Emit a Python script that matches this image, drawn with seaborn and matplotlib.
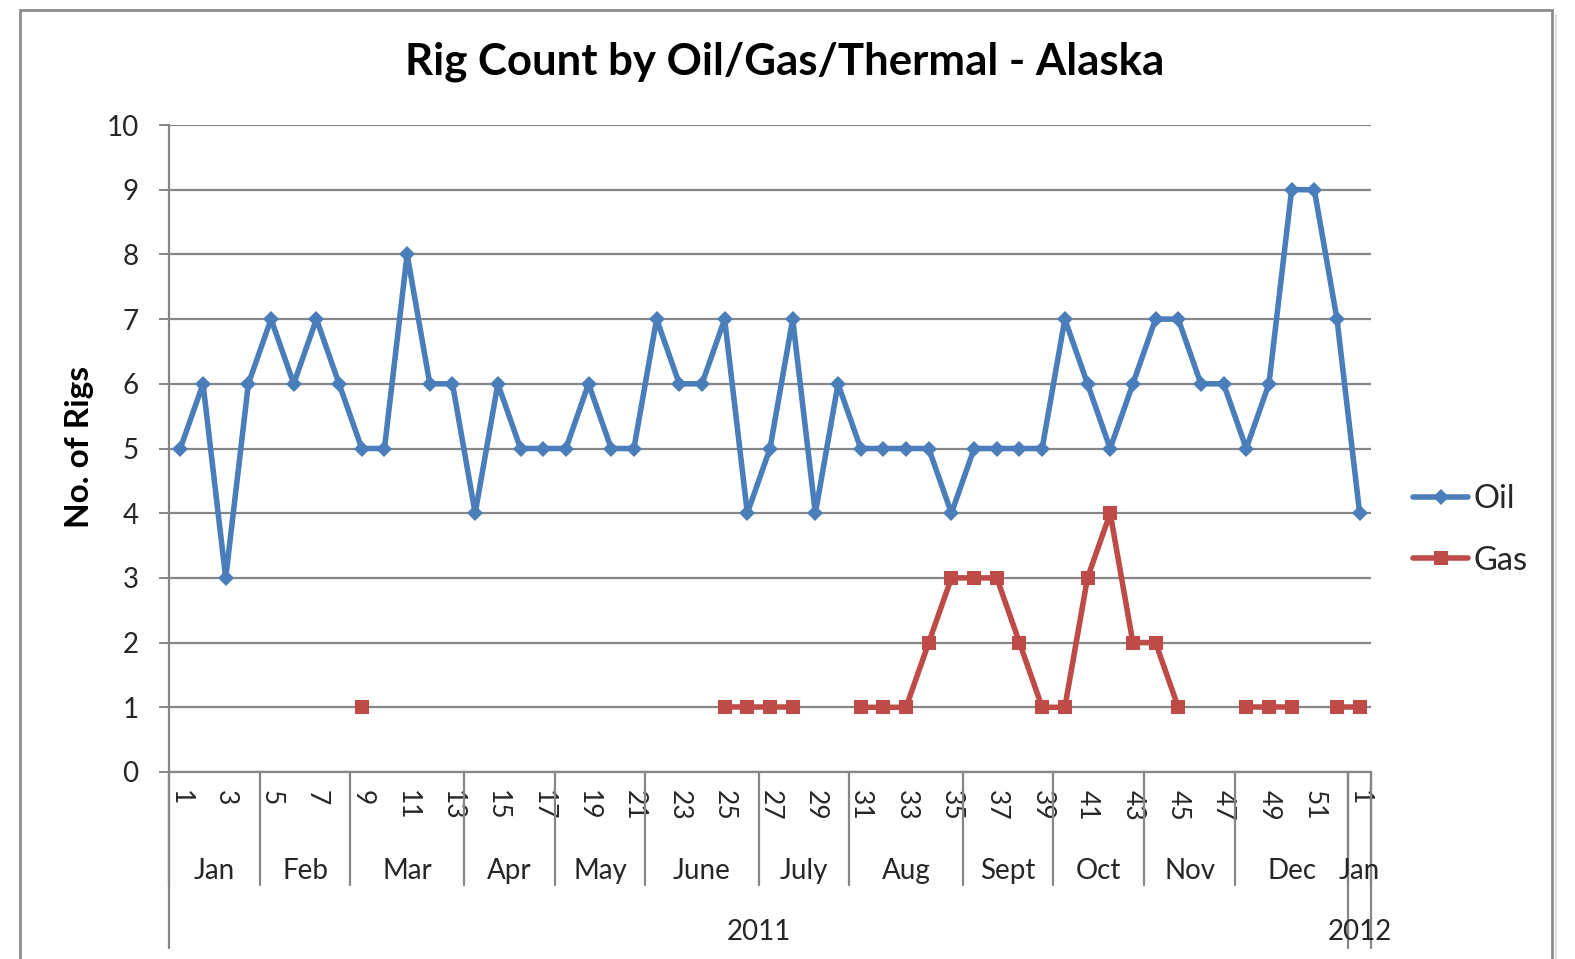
import numpy as np
import pandas as pd
import matplotlib
matplotlib.use("Agg")
import matplotlib.pyplot as plt
import matplotlib.transforms as mtransforms
from matplotlib.lines import Line2D
from matplotlib.patches import Rectangle
import seaborn as sns

# ---------------- data ----------------
weeks = list(range(1, 53)) + [1]
oil = [5, 6, 3, 6, 7, 6, 7, 6, 5, 5,
       8, 6, 6, 4, 6, 5, 5, 5, 6, 5,
       5, 7, 6, 6, 7, 4, 5, 7, 4, 6,
       5, 5, 5, 5, 4, 5, 5, 5, 5, 7,
       6, 5, 6, 7, 7, 6, 6, 5, 6, 9,
       9, 7, 4]
nan = np.nan
gas = [nan, nan, nan, nan, nan, nan, nan, nan, 1, nan,
       nan, nan, nan, nan, nan, nan, nan, nan, nan, nan,
       nan, nan, nan, nan, 1, 1, 1, 1, nan, nan,
       1, 1, 1, 2, 3, 3, 3, 2, 1, 1,
       3, 4, 2, 2, 1, nan, nan, 1, 1, 1,
       nan, 1, 1]
months = ["Jan", "Feb", "Mar", "Apr", "May", "June", "July", "Aug",
          "Sept", "Oct", "Nov", "Dec", "Jan"]
month_weeks = [4, 4, 5, 4, 4, 5, 4, 5, 4, 4, 4, 5, 1]
years = ["2011", "2012"]
year_weeks = [52, 1]
series_names = ["Oil", "Gas"]
yticks = list(range(0, 11))

# ---------------- style ----------------
sns.set_style("white")
plt.rcParams["font.family"] = ["Lato", "DejaVu Sans"]

OIL_C = "#4A7EBB"
GAS_C = "#BE4B48"
GRID_C = "#868686"
LW = 4.0

W, H = 1575, 959
fig = plt.figure(figsize=(W / 100, H / 100), dpi=100)
fig.patch.set_facecolor("white")

# outer chart border
fig.patches.append(Rectangle((20 / W, -0.05), (1552 - 20) / W, 1 - 10 / H + 0.05,
                             transform=fig.transFigure, fill=False,
                             edgecolor="#8C8C8C", lw=2.0, zorder=0))
fig.patches.append(Rectangle((1555 / W, -0.05), 2 / W, 1 - 14 / H + 0.05,
                             transform=fig.transFigure, facecolor="#DDDDDD",
                             edgecolor="none", zorder=0))

L, R, T, B = 169, 1371, 125, 772
ax = fig.add_axes([L / W, 1 - B / H, (R - L) / W, (B - T) / H])

# ---------------- long-form data ----------------
n = len(weeks)
pos = np.arange(n)
rows = []
for name, vals in zip(series_names, [oil, gas]):
    seg = 0
    prev_nan = True
    for i, v in enumerate(vals):
        if np.isnan(v):
            prev_nan = True
            continue
        if prev_nan:
            seg += 1
        prev_nan = False
        rows.append({"x": i, "value": v, "series": name, "seg": f"{name}{seg}"})
df = pd.DataFrame(rows)

sns.lineplot(data=df, x="x", y="value", hue="series", style="series",
             units="seg", estimator=None, sort=False,
             palette={"Oil": OIL_C, "Gas": GAS_C},
             markers={"Oil": "D", "Gas": "s"}, dashes=False,
             linewidth=LW, markersize=8, markeredgewidth=0,
             legend=False, ax=ax, zorder=3)
for ln in ax.lines:
    if ln.get_marker() == "s":
        ln.set_markersize(9.5)
    else:
        ln.set_markersize(8.5)

# ---------------- axes ----------------
ax.set_xlim(-0.5, n - 0.5)
ax.set_ylim(0, 10)
ax.set_yticks(yticks)
ax.set_yticklabels([str(v) for v in yticks], fontsize=20)
ax.yaxis.grid(True, color=GRID_C, lw=1.6)
ax.xaxis.grid(False)
ax.set_axisbelow(True)
ax.tick_params(axis="y", length=7, width=1.4, color=GRID_C, pad=15, left=True)
for s in ["top", "right"]:
    ax.spines[s].set_visible(False)
ax.spines["left"].set_color(GRID_C)
ax.spines["left"].set_linewidth(1.6)
ax.spines["bottom"].set_color(GRID_C)
ax.spines["bottom"].set_linewidth(1.6)
ax.set_xlabel("")
ax.set_ylabel("")

# week tick labels (every 2nd category)
lab_pos = pos[::2]
ax.set_xticks(lab_pos)
ax.set_xticklabels([str(weeks[i]) for i in lab_pos], rotation=-90, fontsize=19)
ax.tick_params(axis="x", length=0, pad=13)

trans = mtransforms.blended_transform_factory(ax.transData, ax.transAxes)
px = 1.0 / (B - T)

month_bottom = -(885 - B) * px
year_bottom = -(948 - B) * px
edges = np.concatenate([[0], np.cumsum(month_weeks)]) - 0.5
for e in edges:
    ax.plot([e, e], [0, month_bottom], transform=trans, color=GRID_C,
            lw=1.6, clip_on=False, zorder=1)
for i, m in enumerate(months):
    c = (edges[i] + edges[i + 1]) / 2
    ax.text(c, -(871 - B) * px, m, transform=trans, ha="center", va="center",
            fontsize=20)

yedges = np.concatenate([[0], np.cumsum(year_weeks)]) - 0.5
for e in yedges:
    ax.plot([e, e], [0, year_bottom], transform=trans, color=GRID_C,
            lw=1.6, clip_on=False, zorder=1)
for i, yname in enumerate(years):
    c = (yedges[i] + yedges[i + 1]) / 2
    ax.text(c, -(932 - B) * px, yname, transform=trans, ha="center", va="center",
            fontsize=20)

# ---------------- titles ----------------
fig.text(785 / W, 1 - 62 / H, "Rig Count by Oil/Gas/Thermal - Alaska",
         ha="center", va="center", fontsize=31.5, fontweight="bold", color="black")
fig.text(79 / W, 1 - 447 / H, "No. of Rigs", rotation=90, ha="center",
         va="center", fontsize=24, fontweight="bold", color="black")

# ---------------- legend ----------------
handles = [Line2D([], [], color=OIL_C, lw=LW, marker="D", markersize=8.5,
                  markeredgewidth=0),
           Line2D([], [], color=GAS_C, lw=LW, marker="s", markersize=9.5,
                  markeredgewidth=0)]
fig.legend(handles, series_names, loc="center left",
           bbox_to_anchor=(1413 / W, 1 - 530 / H), frameon=False,
           fontsize=23.5, handlelength=1.7, handletextpad=0.15,
           labelspacing=0.95, borderaxespad=0, borderpad=0)

fig.savefig("out.png", dpi=100, facecolor="white")
